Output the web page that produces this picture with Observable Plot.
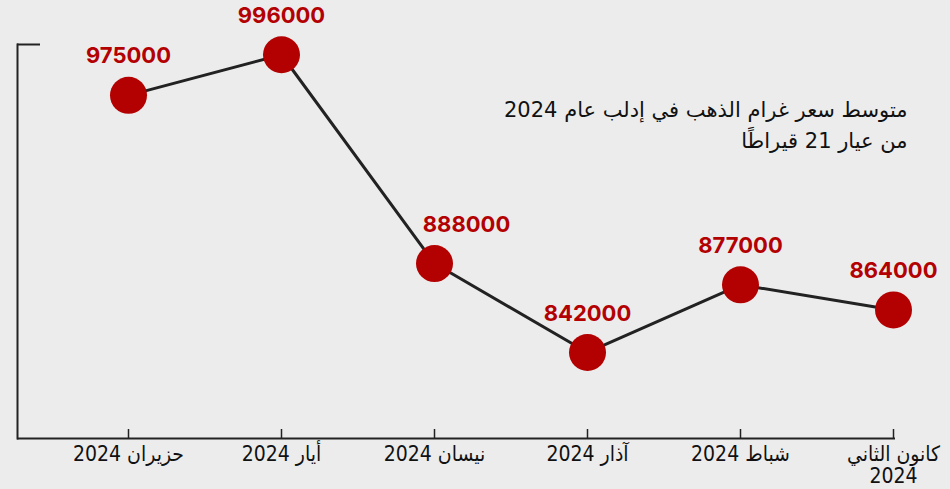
<!DOCTYPE html>
<html>
<head>
<meta charset="utf-8">
<script src="https://cdn.jsdelivr.net/npm/d3@7"></script>
<script src="https://cdn.jsdelivr.net/npm/@observablehq/plot@0.6"></script>
<style>
  html, body { margin: 0; padding: 0; background: #ececec; }
  #chart { width: 950px; height: 489px; }
  svg { display: block; }
  g[aria-label="x-axis tick label"], g[aria-label="x-axis tick label"] text {
    font-size: 21px; font-family: "DejaVu Sans Condensed", "DejaVu Sans", sans-serif; fill: #111;
  }
</style>
</head>
<body>
<div id="chart"></div>
<script>
// Data (chronological order)
const months = ["كانون الثاني 2024", "شباط 2024", "آذار 2024", "نيسان 2024", "أيار 2024", "حزيران 2024"];
const prices = [864000, 877000, 842000, 888000, 996000, 975000];
const titleLines = ["متوسط سعر غرام الذهب في إدلب عام 2024", "من عيار 21 قيراطًا"];

const data = months.map((m, i) => ({month: m, price: prices[i]}));
const yDomain = [797500, 1001300];
const W = 950, H = 489, mT = 44, mB = 51, mL = 17, mR = 55;
const frameW = W - mL - mR, frameH = H - mT - mB;
const ink = "#222";
const red = "#b30000";

const chart = Plot.plot({
  width: W, height: H,
  marginTop: mT, marginBottom: mB, marginLeft: mL, marginRight: mR,
  style: {background: "transparent", overflow: "visible"},
  x: {type: "point", domain: [...months].reverse(), range: [126, 895], padding: 0, label: null},
  y: {domain: yDomain, axis: null},
  marks: [
    // y axis line and top tick
    Plot.frame({anchor: "left", stroke: ink, strokeWidth: 2}),
    Plot.ruleY([yDomain[1]], {stroke: ink, strokeWidth: 2, insetRight: frameW - 23}),
    // x axis line and inward ticks
    Plot.ruleY([yDomain[0]], {stroke: ink, strokeWidth: 2}),
    Plot.ruleX(months, {stroke: ink, strokeWidth: 1.5, insetTop: frameH - 9}),
    Plot.axisX({
      tickSize: 0, tickPadding: 7, label: null, lineHeight: 1.05,
      tickFormat: d => d === months[0] ? "كانون الثاني\n2024" : d
    }),
    // line and dots
    Plot.line(data, {x: "month", y: "price", stroke: ink, strokeWidth: 3}),
    Plot.dot(data, {x: "month", y: "price", r: 18.5, fill: red}),
    // value labels
    Plot.text(data.filter(d => d.price !== 888000), {
      x: "month", y: "price", text: d => String(d.price), dy: -39,
      fill: red, fontSize: 22, fontWeight: "bold", fontFamily: "Inter, 'Liberation Sans', sans-serif"
    }),
    Plot.text(data.filter(d => d.price === 888000), {
      x: "month", y: "price", text: d => String(d.price), dy: -39, dx: 32,
      fill: red, fontSize: 22, fontWeight: "bold", fontFamily: "Inter, 'Liberation Sans', sans-serif"
    }),
    // title
    Plot.text([titleLines.join("\n")], {
      frameAnchor: "top-right", text: d => d, textAnchor: "end", lineAnchor: "top",
      dx: 12, dy: 50, fontSize: 21, lineHeight: 1.5, fill: "#111",
      fontFamily: "'DejaVu Sans', sans-serif"
    })
  ]
});
document.getElementById("chart").appendChild(chart);
</script>
</body>
</html>
